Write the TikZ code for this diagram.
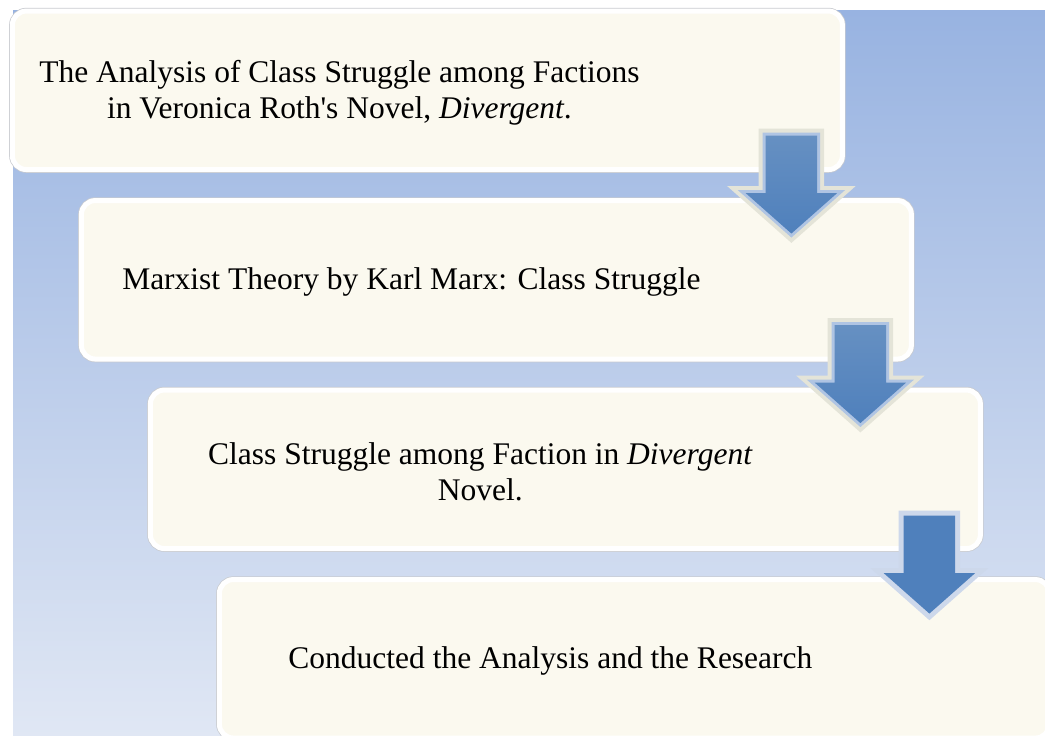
\documentclass[tikz,border=0pt]{standalone}
\usepackage{fontspec}
\setmainfont{Liberation Serif}
\usepackage{tikz}
\usetikzlibrary{calc, positioning, shapes.arrows}
\definecolor{bgtop}{HTML}{98B3E1}
\definecolor{bgbot}{HTML}{E0E7F4}
\definecolor{cream}{HTML}{FBF9EF}
\definecolor{rim}{HTML}{C9CBD0}
\definecolor{arrowtop}{HTML}{6690C2}
\definecolor{arrowbot}{HTML}{4F80BC}
\definecolor{arrowrim}{HTML}{E4E4D8}
\definecolor{arrowband}{HTML}{AFC4E3}
\definecolor{arrowhalo}{HTML}{CDD8EB}
\tikzset{
    stage/.style={
        rectangle, rounded corners=14pt,
        minimum width=830pt, minimum height=158.5pt,
        inner sep=0pt, outer sep=0pt,
        fill=cream, draw=white, line width=5pt,
        preaction={draw=rim, line width=6.5pt}
    },
    caption/.style={
        align=center, inner sep=0pt,
        font=\fontsize{31.5}{36}\selectfont
    },
    flowarrow/.style={
        single arrow, rotate=-90, anchor=tail,
        minimum height=98pt, minimum width=91pt,
        single arrow head extend=20pt,
        single arrow tip angle=97,
        inner xsep=0pt, inner ysep=25.5pt, outer sep=0pt,
        line join=miter
    },
    rimmed/.style={
        top color=arrowtop, bottom color=arrowbot,
        preaction={draw=arrowrim, line width=14pt},
        preaction={draw=arrowband, line width=6pt}
    },
    haloed/.style={
        fill=arrowbot,
        preaction={draw=arrowhalo, line width=10pt}
    }
}

\begin{document}
\begin{tikzpicture}
    \useasboundingbox (0,0) rectangle (1045pt,-736pt);
    \clip (0,0) rectangle (1045pt,-736pt);
    % Background
    \shade[top color=bgtop, bottom color=bgbot] (13pt,-10pt) rectangle (1045pt,-736pt);

    % Draw the four stages
    \node[stage] (b1) at (427.4pt,-90.3pt) {};
    \node[stage, below right=31pt and 69pt of b1.south west] (b2) {};
    \node[stage, below right=31pt and 69pt of b2.south west] (b3) {};
    \node[stage, below right=31pt and 69pt of b3.south west] (b4) {};

    \node[caption] (t1) at ([xshift=327pt, yshift=-2pt]b1.west)
        {The Analysis of Class Struggle among Factions\\
         in Veronica Roth\textquotesingle s Novel, \textit{Divergent}.};
    \node[caption] (t2) at ([xshift=330pt, yshift=-2pt]b2.west)
        {Marxist Theory by Karl Marx: Class Struggle};
    \node[caption] (t3) at ([xshift=330pt, yshift=-2pt]b3.west)
        {Class Struggle among Faction in \textit{Divergent}\\ Novel.};
    \node[caption] (t4) at ([xshift=331pt, yshift=-2pt]b4.west)
        {Conducted the Analysis and the Research};

    % Draw the arrows between stages
    \node[flowarrow, rimmed] (a1) at ($(b1.south east)+(-51pt,34pt)$) {};
    \node[flowarrow, rimmed] (a2) at ($(b2.south east)+(-51pt,34pt)$) {};
    \node[flowarrow, haloed] (a3) at ($(b3.south east)+(-51pt,33pt)$) {};
\end{tikzpicture}
\end{document}
